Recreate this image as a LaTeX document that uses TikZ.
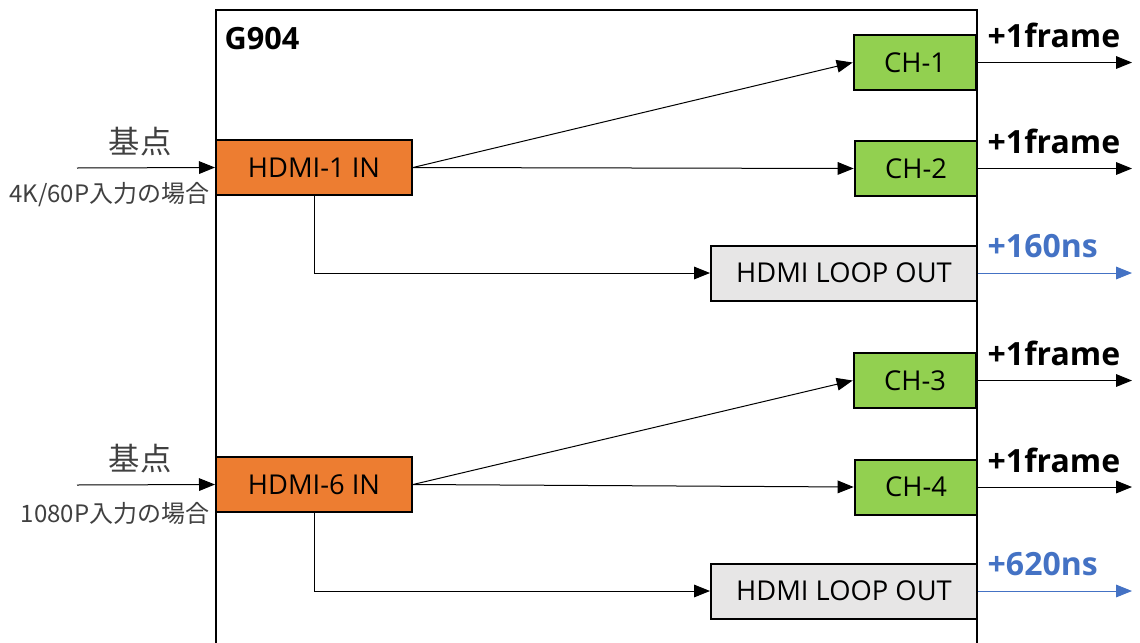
\documentclass[tikz,border=0pt]{standalone}
\usepackage{fontspec}
\setmainfont{Open Sans}
\newfontfamily\jp{Noto Sans CJK JP}
\usetikzlibrary{arrows.meta}

\definecolor{inorange}{HTML}{ED7D31}
\definecolor{chgreen}{HTML}{92D050}
\definecolor{loopgray}{HTML}{E7E6E6}
\definecolor{nsblue}{HTML}{4472C4}

\tikzset{
  box/.style={draw, line width=1.5pt, inner sep=0pt, minimum height=41.25pt,
    font=\fontsize{20.5}{24}\selectfont},
  inbox/.style={box, fill=inorange, minimum width=147pt},
  chbox/.style={box, fill=chgreen, minimum width=92pt},
  loopbox/.style={box, fill=loopgray, minimum width=199.5pt},
  sig/.style={line width=0.75pt, -{Triangle[length=12pt,width=9.5pt]}},
  delay/.style={anchor=base west, font=\bfseries\fontsize{24}{28}\selectfont},
  base/.style={text=black!75, font=\jp\fontsize{23.5}{26}\selectfont},
  cond/.style={anchor=east, text=black!75, font=\jp\fontsize{18}{20}\selectfont},
}

\begin{document}
\begin{tikzpicture}[x=0.75pt, y=-0.75pt]
\useasboundingbox (0,0) rectangle (1140,643);

% G904 frame
\draw[line width=1.5pt] (216,643) -- (216,10) -- (977,10) -- (977,643);
\node[anchor=base west, font=\bfseries\fontsize{23}{26}\selectfont] (G904) at (220,49) {G904};

\coordinate (outx) at (1132,0);

% upper group
\node[inbox] (In1) at (314,167.5) {HDMI-1 IN};
\node[chbox] (Ch1) at (915,62.5) {CH-1};
\node[chbox] (Ch2) at (916,168.5) {CH-2};
\node[loopbox] (Loop1) at (844,273) {HDMI LOOP OUT};

\coordinate (src1) at (77,168);
\node[base] (base1) at (140,142) {基点};
\node[cond] (cond1) at (214,195) {4K/60P入力の場合};
\draw[sig] (src1) -- (In1.west);
\draw[sig] (In1.east) -- (Ch1.west);
\draw[sig] (In1.east) -- (Ch2.west);
\draw[sig] (In1.south) |- (Loop1.west);

\draw[sig] (Ch1.east) -- (Ch1.east -| outx);
\draw[sig] (Ch2.east) -- (Ch2.east -| outx);
\draw[sig, nsblue] (Loop1.east) -- (Loop1.east -| outx);
\node[delay] (d1) at (983,47) {+1frame};
\node[delay] (d2) at (983,153) {+1frame};
\node[delay, text=nsblue] (d3) at (983,257) {+160ns};

% lower group
\node[inbox] (In6) at (314,484.5) {HDMI-6 IN};
\node[chbox] (Ch3) at (915,380.5) {CH-3};
\node[chbox] (Ch4) at (916,487) {CH-4};
\node[loopbox] (Loop2) at (844,591) {HDMI LOOP OUT};

\coordinate (src6) at (77,485);
\node[base] (base6) at (140,459) {基点};
\node[cond] (cond6) at (214,513) {1080P入力の場合};
\draw[sig] (src6) -- (In6.west);
\draw[sig] (In6.east) -- (Ch3.west);
\draw[sig] (In6.east) -- (Ch4.west);
\draw[sig] (In6.south) |- (Loop2.west);

\draw[sig] (Ch3.east) -- (Ch3.east -| outx);
\draw[sig] (Ch4.east) -- (Ch4.east -| outx);
\draw[sig, nsblue] (Loop2.east) -- (Loop2.east -| outx);
\node[delay] (d4) at (983,365) {+1frame};
\node[delay] (d5) at (983,472) {+1frame};
\node[delay, text=nsblue] (d6) at (983,575) {+620ns};
\end{tikzpicture}
\end{document}
